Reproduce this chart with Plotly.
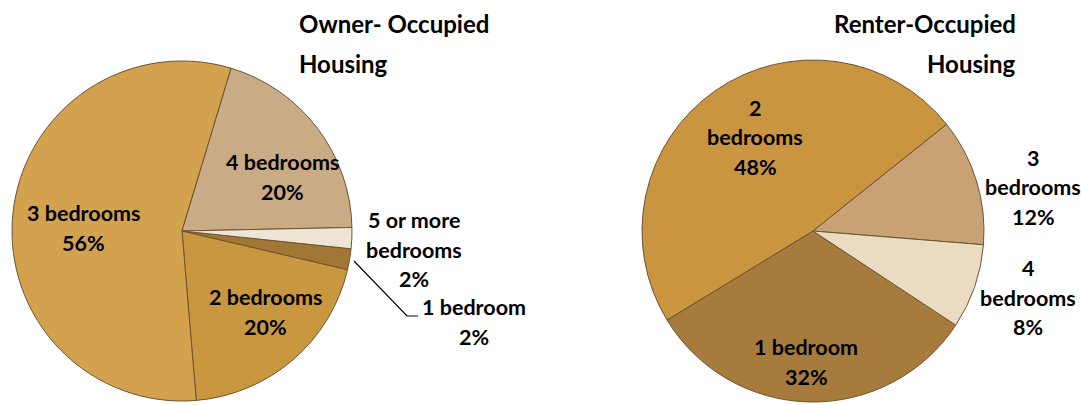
import plotly.graph_objects as go

# ---------------- data ----------------
owner_labels = ["1 bedroom", "2 bedrooms", "3 bedrooms", "4 bedrooms", "5 or more bedrooms"]
owner_values = [2, 20, 56, 20, 2]
owner_colors = ["#A27736", "#C9973F", "#D2A24F", "#C9AB85", "#EEE5D6"]

renter_labels = ["1 bedroom", "2 bedrooms", "3 bedrooms", "4 bedrooms"]
renter_values = [32, 48, 12, 8]
renter_colors = ["#A67B3B", "#C99541", "#C8A274", "#EADBC3"]

# label line breaks as displayed
owner_label_lines = [["1 bedroom"], ["2 bedrooms"], ["3 bedrooms"], ["4 bedrooms"], ["5 or more", "bedrooms"]]
renter_label_lines = [["1 bedroom"], ["2", "bedrooms"], ["3", "bedrooms"], ["4", "bedrooms"]]

titles = [["Owner- Occupied", "Housing"], ["Renter-Occupied", "Housing"]]

# ---------------- layout helpers ----------------
W, H = 1081, 405
FONT = "Lato"
FS = 21.5
TFS = 24
LINE = 29.5
TLINE = 40

def px_dom(cx, cy, r):
    return dict(x=[(cx - r) / W, (cx + r) / W], y=[(H - cy - r) / H, (H - cy + r) / H])

fig = go.Figure()
line_style = dict(color="#6E5330", width=1)

fig.add_trace(go.Pie(
    labels=owner_labels, values=owner_values, sort=False, direction="clockwise",
    rotation=96, marker=dict(colors=owner_colors, line=line_style),
    textinfo="none", hoverinfo="label+percent", showlegend=False,
    domain=px_dom(182, 231, 170),
))
fig.add_trace(go.Pie(
    labels=renter_labels, values=renter_values, sort=False, direction="clockwise",
    rotation=123.4, marker=dict(colors=renter_colors, line=line_style),
    textinfo="none", hoverinfo="label+percent", showlegend=False,
    domain=px_dom(813, 231, 171),
))

annotations = []

def add_block(lines, cx, y0, anchor="center", size=FS, step=LINE):
    for i, t in enumerate(lines):
        annotations.append(dict(
            x=cx / W, y=(H - (y0 + i * step)) / H, xref="paper", yref="paper",
            text="<b>%s</b>" % t, showarrow=False, xanchor=anchor, yanchor="middle",
            font=dict(family=FONT, size=size, color="#000000"),
        ))

def pct(v, vals):
    return "%d%%" % round(100 * v / sum(vals))

# owner label centres (x, first-line y)
owner_pos = [(474, 307), (265, 297), (83, 213), (282, 162), (414, 220)]
for lines, v, (x, y) in zip(owner_label_lines, owner_values, owner_pos):
    add_block(lines + [pct(v, owner_values)], x, y)

renter_pos = [(806, 347), (755, 108), (1033, 158), (1028, 268)]
for lines, v, (x, y) in zip(renter_label_lines, renter_values, renter_pos):
    add_block(lines + [pct(v, renter_values)], x, y)

# titles
add_block(titles[0], 297, 23, anchor="left", size=TFS, step=TLINE)
add_block(titles[1], 1018, 23, anchor="right", size=TFS, step=TLINE)

fig.update_layout(
    width=W, height=H, margin=dict(l=0, r=0, t=0, b=0),
    paper_bgcolor="white", plot_bgcolor="white",
    annotations=annotations,
    shapes=[dict(type="path", xref="paper", yref="paper",
                 path="M %f %f L %f %f L %f %f" % (354 / W, (H - 261) / H, 407 / W, (H - 316) / H, 418 / W, (H - 316) / H),
                 line=dict(color="#000000", width=1.2))],
)

fig.write_html("out.html", config={"displayModeBar": False},
               post_script="document.body.style.margin='0';document.body.style.overflow='hidden';")
